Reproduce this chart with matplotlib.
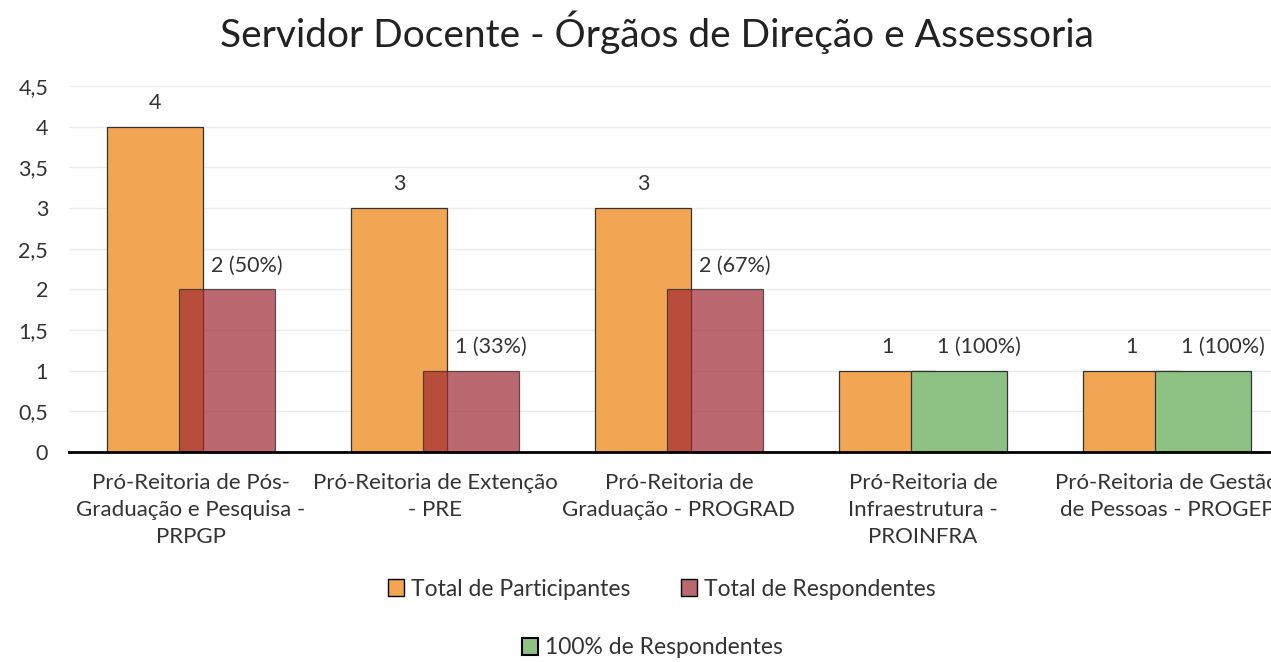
import matplotlib
matplotlib.use("Agg")
import matplotlib.pyplot as plt
from matplotlib.patches import Patch
import numpy as np

plt.rcParams['font.family'] = ['Lato', 'DejaVu Sans']

categories = ["Pró-Reitoria de Pós-\nGraduação e Pesquisa -\nPRPGP",
              "Pró-Reitoria de Extenção\n- PRE",
              "Pró-Reitoria de\nGraduação - PROGRAD",
              "Pró-Reitoria de\nInfraestrutura -\nPROINFRA",
              "Pró-Reitoria de Gestão\nde Pessoas - PROGEP"]
participantes = [4, 3, 3, 1, 1]
respondentes = [2, 1, 2, 1, 1]
yticks = [0, 0.5, 1, 1.5, 2, 2.5, 3, 3.5, 4, 4.5]
ytick_labels = ["0", "0,5", "1", "1,5", "2", "2,5", "3", "3,5", "4", "4,5"]

orange = "#F2A552"
red = "#A02834"
green = "#8EC184"

W, H = 1271, 662
fig = plt.figure(figsize=(W/100, H/100), dpi=100)
ax = fig.add_axes([69/W, (H-452)/H, (1289-69)/W, (452-86)/H])

x = np.arange(len(categories))
bw = 0.393
off = 0.1475
lab_shift = 0.08

ax.bar(x - off, participantes, bw, color=orange, edgecolor="#333333", linewidth=0.9, zorder=2)
for i, (p, r) in enumerate(zip(participantes, respondentes)):
    if r == p:
        ax.bar(x[i] + off, r, bw, color=green, edgecolor="#333333", linewidth=0.9, zorder=3)
    else:
        ax.bar(x[i] + off, r, bw, color=red, alpha=0.7, edgecolor="#222222", linewidth=0.9, zorder=3)
    ax.text(x[i] - off, p + 0.17, f"{p}", ha="center", va="bottom", fontsize=15.5, color="#333333")
    ax.text(x[i] + off + lab_shift, r + 0.17, f"{r} ({round(100*r/p)}%)", ha="center", va="bottom",
            fontsize=15.5, color="#333333")

ax.set_xlim(-0.5, 4.5)
ax.set_ylim(0, 4.5)
ax.set_yticks(yticks)
ax.set_yticklabels(ytick_labels, fontsize=15.5, color="#333333")
ax.set_xticks(x)
ax.set_xticklabels(categories, fontsize=16, color="#333333", linespacing=1.45, va="top")
ax.tick_params(axis="both", length=0)
ax.tick_params(axis="y", pad=15)
ax.tick_params(axis="x", pad=15)
ax.yaxis.grid(True, color="#EBEBEB", linewidth=1, zorder=0)
ax.set_axisbelow(True)
for s in ["top", "right", "left"]:
    ax.spines[s].set_visible(False)
ax.spines["bottom"].set_linewidth(2)
ax.spines["bottom"].set_color("black")
ax.spines["bottom"].set_zorder(5)

fig.text(0.517, 1 - 32/H, "Servidor Docente - Órgãos de Direção e Assessoria",
         ha="center", va="center", fontsize=28, color="#222222")

h1 = [Patch(facecolor=orange, edgecolor="black", linewidth=1, label="Total de Participantes"),
      Patch(facecolor="#BC6870", edgecolor="black", linewidth=1, label="Total de Respondentes")]
h2 = [Patch(facecolor=green, edgecolor="black", linewidth=1.5, label="100% de Respondentes")]
leg1 = fig.legend(handles=h1, loc="center", bbox_to_anchor=(662/W, 1 - 589/H), ncol=2,
                  frameon=False, fontsize=16.5, handlelength=0.7, handleheight=0.7,
                  handletextpad=0.3, columnspacing=2.2)
for t in leg1.get_texts():
    t.set_color("#333333")
leg2 = fig.legend(handles=h2, loc="center", bbox_to_anchor=(652/W, 1 - 648/H), ncol=1,
                  frameon=False, fontsize=16.5, handlelength=0.7, handleheight=0.7,
                  handletextpad=0.3)
for t in leg2.get_texts():
    t.set_color("#333333")

fig.savefig("out.png", dpi=100)
